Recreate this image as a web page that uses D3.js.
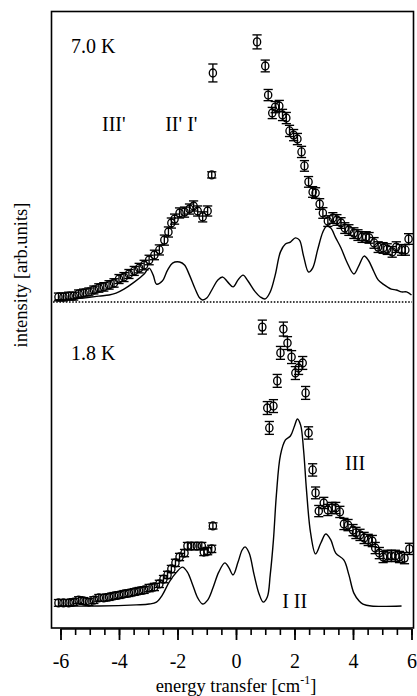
<!DOCTYPE html>
<html>
<head>
<meta charset="utf-8">
<script src="https://cdn.jsdelivr.net/npm/d3@7"></script>
<style>
  html, body { margin: 0; padding: 0; background: #fff; }
  svg { display: block; }
  text { font-family: "Liberation Serif", "Times New Roman", serif; fill: #000; }
</style>
</head>
<body>
<svg id="chart" width="417" height="696"></svg>
<script>
// ---------- DATA (energy transfer [cm^-1], intensity [arb. units], error) ----------
const xTickMajor = [-6, -4, -2, 0, 2, 4, 6];
const xTickMinor = d3.range(-6, 6.01, 0.5);

// 7.0 K measured points: [E, I, err]
const points7K = [
  [-6.07,1.8,1.4],[-5.90,1.8,1.4],[-5.72,2.1,1.4],[-5.55,2.1,1.4],[-5.38,2.9,1.4],[-5.21,3.2,1.4],
  [-5.03,3.6,1.4],[-4.86,4.3,1.4],[-4.69,5.0,1.5],[-4.52,5.4,1.5],[-4.34,6.1,1.5],[-4.17,6.8,1.5],
  [-4.00,8.2,1.6],[-3.83,8.9,1.6],[-3.66,10.0,1.6],[-3.48,11.1,1.6],[-3.31,12.1,1.7],[-3.14,13.2,1.7],
  [-2.97,15.0,1.7],[-2.79,16.8,1.7],[-2.62,18.6,1.8],[-2.45,22.1,1.8],[-2.31,25.0,1.8],[-2.21,28.2,1.8],
  [-2.10,29.6,1.8],[-1.93,31.8,1.8],[-1.76,32.1,1.8],[-1.59,33.2,1.8],[-1.45,34.3,1.8],[-1.31,32.5,1.8],
  [-1.14,30.4,1.8],[-0.97,32.5,1.8],[-0.83,45.4,1.1],[-0.79,81.8,3.2],
  [0.72,92.9,2.5],[1.00,84.3,2.1],[1.10,73.9,2.0],[1.24,67.5,2.0],[1.34,69.6,2.0],[1.48,70.0,2.0],
  [1.59,66.8,2.0],[1.72,65.7,2.0],[1.83,61.1,2.0],[1.97,59.6,2.0],[2.10,58.2,2.0],[2.24,53.6,2.0],
  [2.34,48.6,1.9],[2.48,42.9,1.9],[2.62,39.3,1.9],[2.72,38.9,1.9],[2.86,35.0,1.9],[2.97,31.8,1.9],
  [3.14,28.9,1.9],[3.31,30.0,1.9],[3.45,29.3,1.9],[3.59,28.2,1.9],[3.72,26.4,1.9],[3.86,25.7,1.9],
  [4.03,24.6,1.9],[4.17,23.9,1.9],[4.31,23.2,1.9],[4.45,23.2,1.9],[4.55,22.9,1.9],[4.72,21.1,1.9],
  [4.86,19.6,1.9],[5.03,19.3,1.9],[5.17,18.9,1.9],[5.34,17.9,1.9],[5.48,19.6,1.9],[5.66,18.6,1.9],
  [5.79,18.6,1.9],[5.90,22.5,1.9]
];

// 7.0 K calculated curve: [E, I]
const curve7K = [
  [-6.21,0.7],[-5.72,1.1],[-5.21,1.4],[-4.69,2.1],[-4.34,2.5],[-4.10,3.2],[-3.83,4.6],[-3.48,7.1],
  [-3.14,10.0],[-2.97,12.1],[-2.83,9.6],[-2.72,6.4],[-2.52,7.5],[-2.34,11.4],[-2.17,13.9],[-1.93,14.3],
  [-1.76,13.2],[-1.59,9.6],[-1.41,5.0],[-1.24,1.4],[-1.14,0.7],[-1.00,1.4],[-0.79,5.0],[-0.62,7.9],
  [-0.45,8.9],[-0.28,7.1],[-0.10,5.4],[0.07,7.9],[0.24,9.6],[0.41,7.5],[0.66,3.6],[0.83,1.8],
  [1.00,1.1],[1.17,3.6],[1.34,9.6],[1.52,17.9],[1.69,20.7],[1.86,21.4],[2.03,22.9],[2.17,22.1],
  [2.31,16.4],[2.48,10.7],[2.62,12.1],[2.79,18.6],[2.97,25.0],[3.10,27.1],[3.24,26.4],[3.41,22.9],
  [3.59,19.3],[3.79,14.3],[4.03,10.0],[4.21,13.2],[4.38,16.4],[4.52,15.0],[4.69,11.4],[4.86,7.9],
  [5.03,6.4],[5.31,4.6],[5.48,4.3],[5.66,3.6],[5.83,3.6],[6.00,2.5]
];

// 1.8 K measured points: [E, I, err]
const points18K = [
  [-6.07,1.1,1.2],[-5.90,1.1,1.2],[-5.72,1.1,1.2],[-5.55,1.4,1.2],[-5.38,2.1,1.2],[-5.21,1.8,1.2],
  [-5.03,1.4,1.2],[-4.86,2.1,1.2],[-4.69,2.9,1.2],[-4.52,2.9,1.2],[-4.34,3.2,1.2],[-4.17,3.6,1.2],
  [-4.00,3.9,1.2],[-3.83,4.3,1.2],[-3.66,4.6,1.2],[-3.48,5.0,1.2],[-3.31,5.4,1.2],[-3.14,5.7,1.2],
  [-2.97,6.4,1.3],[-2.79,6.8,1.3],[-2.62,7.9,1.3],[-2.48,9.6,1.3],[-2.34,11.1,1.3],[-2.21,13.2,1.3],
  [-2.07,15.4,1.3],[-1.93,17.5,1.3],[-1.76,18.9,1.3],[-1.66,21.4,1.3],[-1.52,21.4,1.3],[-1.34,21.4,1.3],
  [-1.17,21.4,1.3],[-1.10,19.3,1.3],[-0.97,19.6,1.3],[-0.83,20.4,1.3],[-0.79,28.6,1.1],
  [0.90,99.6,2.5],[1.07,70.7,2.3],[1.14,63.6,2.3],[1.28,71.4,2.3],[1.41,80.4,2.3],[1.52,90.4,2.3],
  [1.62,98.9,2.5],[1.76,93.9,2.3],[1.90,88.9,2.3],[2.03,83.2,2.3],[2.14,85.0,2.3],[2.28,86.8,2.3],
  [2.38,76.1,2.3],[2.48,61.8,2.2],[2.62,48.6,2.2],[2.72,40.4,2.1],[2.83,33.9,2.0],[3.00,36.8,2.0],
  [3.14,34.3,2.0],[3.28,35.0,2.0],[3.41,35.0,2.0],[3.55,33.6,2.0],[3.69,29.3,2.0],[3.83,28.9,2.0],
  [4.00,27.1,2.0],[4.10,26.1,2.0],[4.24,25.4,2.0],[4.38,24.3,2.0],[4.52,23.6,2.0],[4.66,23.2,2.0],
  [4.76,20.7,2.0],[4.90,18.9,2.0],[5.03,17.5,2.0],[5.17,17.9,2.0],[5.31,17.9,2.0],[5.45,17.9,2.0],
  [5.59,17.5,2.0],[5.76,17.1,2.0],[5.93,20.4,2.0]
];

// 1.8 K calculated curve: [E, I]
const curve18K = [
  [-6.07,0],[-4.69,0],[-3.41,0.4],[-2.97,0.7],[-2.72,1.4],[-2.52,3.9],[-2.28,8.6],[-2.03,12.1],
  [-1.83,13.9],[-1.66,12.1],[-1.48,7.5],[-1.31,2.9],[-1.14,0.7],[-0.97,2.1],[-0.79,6.4],[-0.59,12.1],
  [-0.38,15.4],[-0.24,13.6],[-0.10,11.1],[0.07,15.7],[0.21,20.0],[0.31,21.1],[0.45,18.9],[0.62,11.1],
  [0.79,4.3],[0.93,1.4],[1.07,3.2],[1.17,11.1],[1.28,23.6],[1.38,39.6],[1.52,53.9],[1.69,59.3],
  [1.86,60.7],[2.00,64.3],[2.10,66.8],[2.21,64.6],[2.31,55.7],[2.41,41.4],[2.55,26.1],[2.72,18.6],
  [2.90,22.5],[3.07,25.7],[3.24,23.6],[3.41,18.9],[3.69,16.4],[3.86,11.1],[4.03,4.6],[4.21,1.8],
  [4.34,0.7],[4.62,0],[5.66,0]
];

// Annotations: [text, E, I]
const labels7K = [["7.0 K", -5.64, 88.8], ["III'", -4.58, 61.2], ["II' I'", -2.42, 61.2]];
const labels18K = [["1.8 K", -5.64, 87.9], ["III", 3.73, 48.6], ["I II", 1.58, -0.7]];

// ---------- DRAW ----------
const svg = d3.select("#chart");
const x = d3.scaleLinear().domain([-6, 6]).range([60.5, 411.5]);
const yTop = d3.scaleLinear().domain([0, 100]).range([302, 22]);
const yBot = d3.scaleLinear().domain([0, 100]).range([606, 326]);

// frame
svg.append("rect").attr("x", 51.5).attr("y", 11.5).attr("width", 362).attr("height", 616.5)
  .attr("fill", "none").attr("stroke", "#000").attr("stroke-width", 1.6);

// dotted baseline of top panel
svg.append("line").attr("x1", 53).attr("x2", 412)
  .attr("y1", yTop(0)).attr("y2", yTop(0))
  .attr("stroke", "#000").attr("stroke-width", 1.3).attr("stroke-dasharray", "1.6,1.6");

function drawPanel(pts, curve, y) {
  const line = d3.line().x(d => x(d[0])).y(d => y(d[1])).curve(d3.curveCatmullRom.alpha(0.5));
  svg.append("path").datum(curve).attr("d", line)
    .attr("fill", "none").attr("stroke", "#000").attr("stroke-width", 1.4);
  const g = svg.append("g").attr("stroke", "#000").attr("fill", "none").attr("stroke-width", 1.35);
  const p = g.selectAll("g").data(pts).join("g");
  p.append("line").attr("x1", d => x(d[0])).attr("x2", d => x(d[0]))
    .attr("y1", d => y(d[1] - d[2])).attr("y2", d => y(d[1] + d[2]));
  p.append("line").attr("x1", d => x(d[0]) - 4.6).attr("x2", d => x(d[0]) + 4.6)
    .attr("y1", d => y(d[1] - d[2])).attr("y2", d => y(d[1] - d[2]));
  p.append("line").attr("x1", d => x(d[0]) - 4.6).attr("x2", d => x(d[0]) + 4.6)
    .attr("y1", d => y(d[1] + d[2])).attr("y2", d => y(d[1] + d[2]));
  p.append("ellipse").attr("cx", d => x(d[0])).attr("cy", d => y(d[1])).attr("rx", 3.6).attr("ry", 4);
}
drawPanel(points7K, curve7K, yTop);
drawPanel(points18K, curve18K, yBot);

function drawLabels(lbls, y) {
  svg.append("g").selectAll("text").data(lbls).join("text")
    .attr("x", d => x(d[1])).attr("y", d => y(d[2]))
    .attr("font-size", 20).text(d => d[0]);
}
drawLabels(labels7K, yTop);
drawLabels(labels18K, yBot);

// x axis
const axisY = 629;
const minorAxis = d3.axisBottom(x).tickValues(xTickMinor).tickSize(6).tickFormat("");
svg.append("g").attr("transform", `translate(0,${axisY})`).call(minorAxis)
  .call(g => g.select(".domain").remove())
  .selectAll("line").attr("stroke-width", 1.6);
const majorAxis = d3.axisBottom(x).tickValues(xTickMajor).tickSize(11).tickPadding(14)
  .tickFormat(d => String(d));
const gx = svg.append("g").attr("transform", `translate(0,${axisY})`).call(majorAxis);
gx.select(".domain").attr("stroke-width", 1.6).attr("d", `M${x(-6)},0H${x(6)}`);
gx.selectAll("line").attr("stroke-width", 1.8);
gx.selectAll("text").attr("font-size", 20)
  .attr("font-family", "'Liberation Serif', 'Times New Roman', serif");

// axis titles
const xt = svg.append("text").attr("x", 236).attr("y", 692)
  .attr("text-anchor", "middle").attr("font-size", 18.5);
xt.append("tspan").text("energy transfer [cm");
xt.append("tspan").attr("dy", -8).attr("font-size", 12).text("-1");
xt.append("tspan").attr("dy", 8).text("]");

svg.append("text").attr("transform", "translate(27,275) rotate(-90)")
  .attr("text-anchor", "middle").attr("font-size", 18.5).text("intensity [arb.units]");
</script>
</body>
</html>
